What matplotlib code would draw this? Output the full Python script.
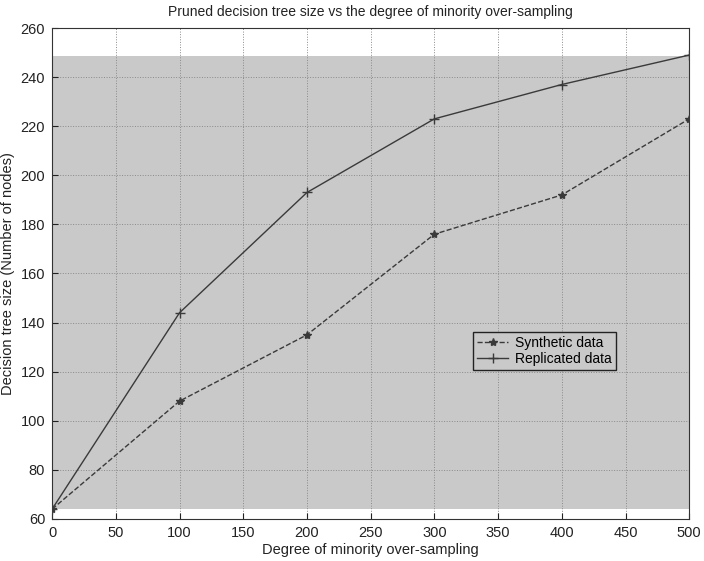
import matplotlib.pyplot as plt
import numpy as np

plt.rcParams['font.family'] = ['Liberation Sans', 'DejaVu Sans']

# grado de sobremuestreo y tamano del arbol podado
grado = [0, 100, 200, 300, 400, 500]
sinteticos = [64, 108, 135, 176, 192, 223]
replicados = [64, 144, 193, 223, 237, 249]

xticks = np.arange(0, 501, 50)
yticks = np.arange(60, 261, 20)

fig = plt.figure(figsize=(7.04, 5.61), dpi=100)
ax = fig.add_axes([0.074, 0.075, 0.905, 0.875])

# zona gris del escaneo original
ax.axhspan(64, 248.5, color='#c9c9c9', zorder=0, lw=0)

ax.plot(grado, sinteticos, '--', color='#3a3a3a', lw=1.0, marker='*',
        ms=6, label='Synthetic data', zorder=3)
ax.plot(grado, replicados, '-', color='#3a3a3a', lw=1.0, marker='+',
        ms=7, label='Replicated data', zorder=3)

ax.set_xlim(0, 500)
ax.set_ylim(60, 260)
ax.set_xticks(xticks)
ax.set_yticks(yticks)
ax.tick_params(direction='in', length=4, labelsize=10.5, colors='#222222', pad=5)
ax.grid(True, linestyle=':', color='#8a8a8a', lw=0.7)
for s in ax.spines.values():
    s.set_color('#333333')

ax.set_title('Pruned decision tree size vs the degree of minority over-sampling',
             fontsize=10, color='#222222', pad=9)
ax.set_xlabel('Degree of minority over-sampling', fontsize=10.5,
              color='#222222', labelpad=2)
ax.set_ylabel('Decision tree size (Number of nodes)', fontsize=10.5,
              color='#222222', labelpad=4)

leg = ax.legend(loc='upper left', bbox_to_anchor=(0.65, 0.395), fontsize=10,
                frameon=True, fancybox=False, framealpha=1, handlelength=2.2,
                borderpad=0.3, labelspacing=0.1, handletextpad=0.5)
leg.get_frame().set_edgecolor('#222222')
leg.get_frame().set_facecolor('#c9c9c9')
leg.get_frame().set_linewidth(1.0)

fig.savefig('out.png', dpi=100)
